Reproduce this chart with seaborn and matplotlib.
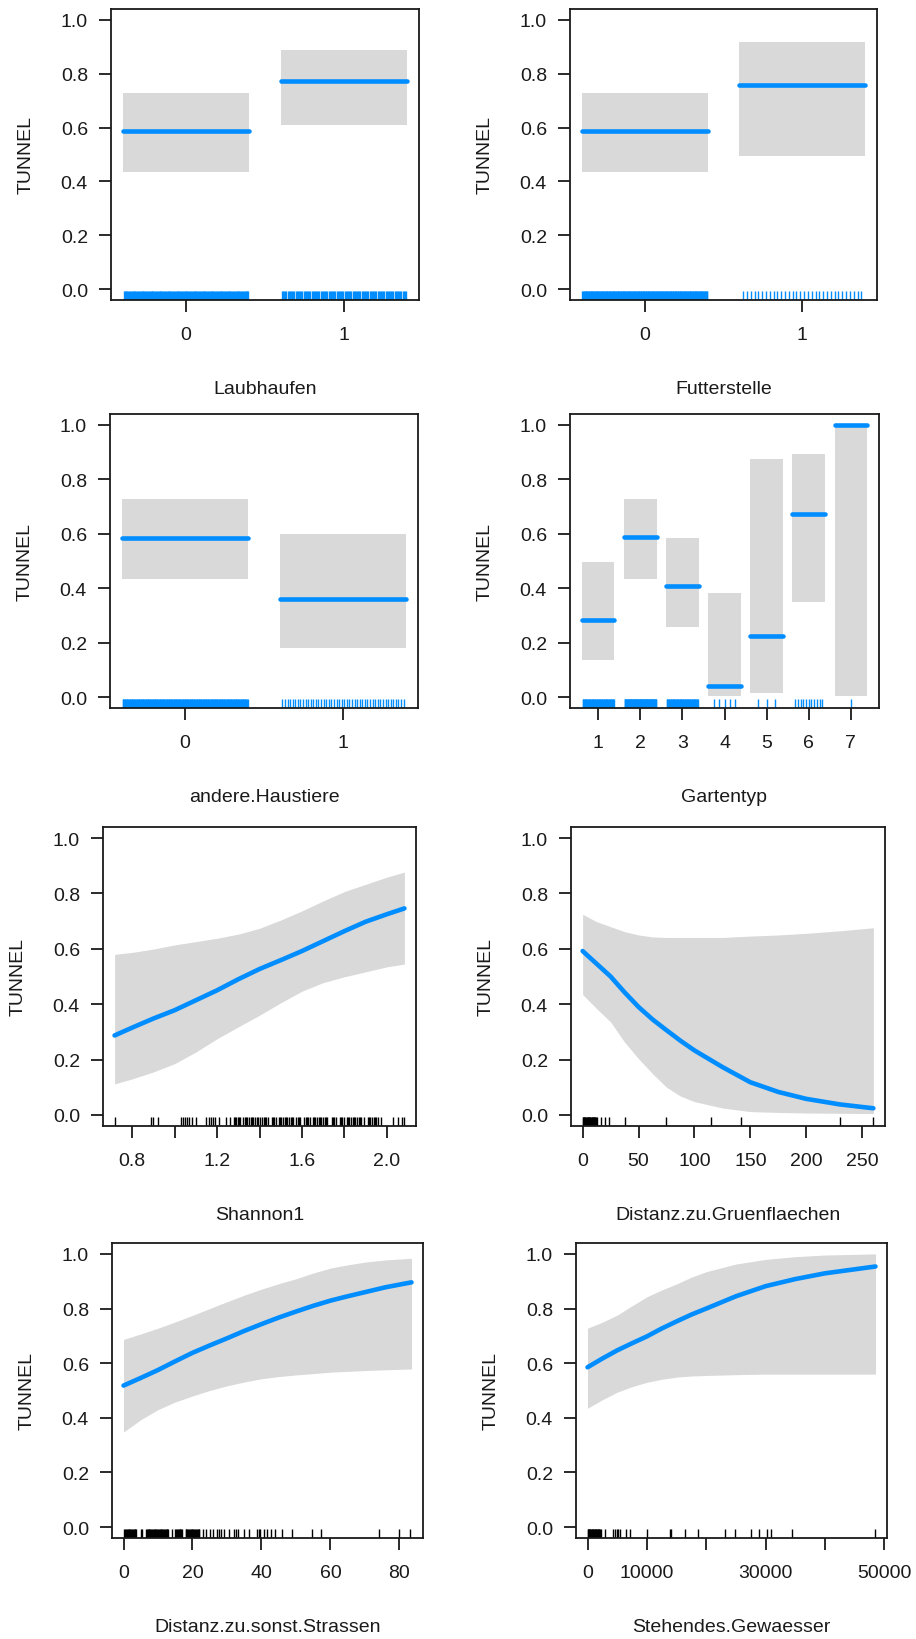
import numpy as np
import pandas as pd
import matplotlib
matplotlib.use("Agg")
import matplotlib.pyplot as plt
import seaborn as sns

# ---------------- data ----------------
Y_LABEL = "TUNNEL"

laub_levels = ["0", "1"]
laub_fit = [0.587, 0.771]
laub_lwr = [0.434, 0.608]
laub_upr = [0.727, 0.887]
laub_n = [140, 110]

futter_levels = ["0", "1"]
futter_fit = [0.587, 0.759]
futter_lwr = [0.434, 0.494]
futter_upr = [0.727, 0.916]
futter_n = [200, 32]

haus_levels = ["0", "1"]
haus_fit = [0.586, 0.360]
haus_lwr = [0.434, 0.182]
haus_upr = [0.726, 0.598]
haus_n = [180, 48]

garten_levels = ["1", "2", "3", "4", "5", "6", "7"]
garten_fit = [0.282, 0.587, 0.407, 0.041, 0.223, 0.672, 1.000]
garten_lwr = [0.135, 0.434, 0.256, 0.004, 0.014, 0.348, 0.004]
garten_upr = [0.496, 0.727, 0.583, 0.381, 0.876, 0.893, 1.000]
garten_n = [50, 70, 50, 5, 3, 11, 1]

shannon_x = [0.718, 0.8, 0.9, 1.0, 1.1, 1.2, 1.3, 1.4, 1.5, 1.6, 1.7, 1.8, 1.9, 2.0, 2.082]
shannon_fit = [0.287, 0.315, 0.348, 0.378, 0.414, 0.450, 0.490, 0.527, 0.559, 0.592,
               0.628, 0.664, 0.698, 0.725, 0.746]
shannon_lwr = [0.112, 0.130, 0.155, 0.185, 0.227, 0.275, 0.318, 0.360, 0.405, 0.447,
               0.478, 0.499, 0.517, 0.535, 0.545]
shannon_upr = [0.580, 0.587, 0.599, 0.614, 0.626, 0.638, 0.653, 0.674, 0.704, 0.737,
               0.773, 0.807, 0.833, 0.859, 0.877]
shannon_rug = [0.72, 0.89, 0.90, 0.92, 1.03, 1.04, 1.05, 1.06, 1.07, 1.08, 1.10,
               1.15, 1.16, 1.17, 1.18, 1.19, 1.21, 1.24, 1.26,
               1.28, 1.285, 1.29, 1.30, 1.305, 1.31, 1.32, 1.33, 1.335, 1.34, 1.35,
               1.36, 1.365, 1.37, 1.38, 1.39, 1.395, 1.40, 1.41, 1.42, 1.425, 1.43,
               1.44, 1.46, 1.465, 1.47, 1.48, 1.49, 1.495, 1.50, 1.51, 1.52, 1.525,
               1.53, 1.54, 1.55, 1.555, 1.56, 1.57, 1.58, 1.585, 1.59, 1.61, 1.62,
               1.625, 1.63, 1.64, 1.65, 1.655, 1.66, 1.67, 1.68, 1.685, 1.69, 1.70,
               1.71, 1.715, 1.72, 1.74, 1.745, 1.75, 1.76, 1.78, 1.785, 1.79, 1.80,
               1.81, 1.815, 1.82, 1.83, 1.84, 1.845, 1.85, 1.86, 1.87, 1.875, 1.88,
               1.89, 1.91, 1.915, 1.92, 1.93, 1.94, 1.945, 1.95, 1.96, 1.97,
               2.03, 2.05, 2.07, 2.08]

gruen_x = [0, 12.5, 25, 37.5, 50, 62.5, 75, 87.5, 100, 125, 150, 175, 200, 230, 260]
gruen_fit = [0.592, 0.546, 0.500, 0.443, 0.390, 0.345, 0.306, 0.268, 0.233, 0.173,
             0.118, 0.083, 0.058, 0.038, 0.024]
gruen_lwr = [0.435, 0.384, 0.336, 0.263, 0.203, 0.149, 0.100, 0.068, 0.048, 0.025,
             0.012, 0.009, 0.007, 0.006, 0.005]
gruen_upr = [0.725, 0.698, 0.680, 0.662, 0.650, 0.643, 0.641, 0.641, 0.641, 0.641,
             0.646, 0.650, 0.656, 0.665, 0.676]
gruen_rug = [0, 0.5, 1, 1.5, 2, 2.5, 3, 3.5, 4, 4.5, 5, 5.5, 6, 6.5, 7, 7.5, 8,
             8.5, 9, 9.5, 10, 10.5, 11, 11.5, 12, 12.5, 16, 20, 24, 38, 75, 115,
             142, 230.5, 260]

strassen_x = [0, 5, 10, 15, 20, 25, 30, 35, 40, 45, 50, 55, 60, 65, 70, 76, 83.5]
strassen_fit = [0.518, 0.546, 0.575, 0.607, 0.638, 0.665, 0.691, 0.718, 0.743, 0.767,
                0.789, 0.810, 0.829, 0.845, 0.860, 0.878, 0.896]
strassen_lwr = [0.348, 0.393, 0.430, 0.458, 0.480, 0.500, 0.517, 0.531, 0.543, 0.551,
                0.557, 0.562, 0.567, 0.570, 0.573, 0.576, 0.579]
strassen_upr = [0.687, 0.707, 0.728, 0.751, 0.775, 0.800, 0.825, 0.849, 0.871, 0.891,
                0.909, 0.930, 0.948, 0.960, 0.970, 0.978, 0.984]
strassen_rug = [0.2, 0.45, 0.7, 0.95, 1.2, 1.45, 1.7, 1.95, 2.2, 2.45, 2.7, 2.95,
                3.2, 3.45, 3.7, 5.0, 5.25, 6.5, 6.75, 7.0, 7.25, 7.5, 7.75, 8.0,
                8.25, 8.5, 8.75, 9.0, 9.25, 9.5, 9.75, 10.0, 10.25, 10.5, 10.75,
                11.0, 11.25, 11.5, 11.75, 12.0, 12.25, 12.5, 12.75, 13.0, 14.0,
                15.0, 15.25, 15.5, 15.75, 16.0, 16.25, 16.5, 16.75, 17.0, 18.0,
                18.25, 18.5, 18.75, 19.0, 19.25, 19.5, 19.75, 20.0, 20.25, 20.5,
                20.75, 21.0, 21.25, 21.5, 21.75, 22.0, 23, 24, 25, 26, 27, 27.7,
                28.4, 29.2, 30.5, 32, 32.6, 33.3, 35, 36.3, 38.7, 39.2, 39.7,
                40.6, 41.6, 42.7, 44, 46, 48.8, 54.6, 57.3, 74.2, 80, 83.2]

gewaesser_x = [0, 2500, 5000, 7500, 10000, 12500, 15000, 17500, 20000, 25000, 30000,
               35000, 40000, 48500]
gewaesser_fit = [0.585, 0.617, 0.647, 0.673, 0.698, 0.727, 0.753, 0.778, 0.800, 0.845,
                 0.882, 0.908, 0.929, 0.954]
gewaesser_lwr = [0.435, 0.466, 0.494, 0.514, 0.530, 0.541, 0.549, 0.553, 0.555, 0.558,
                 0.560, 0.560, 0.560, 0.560]
gewaesser_upr = [0.728, 0.750, 0.776, 0.810, 0.843, 0.868, 0.890, 0.915, 0.935, 0.963,
                 0.980, 0.990, 0.996, 1.000]
gewaesser_rug = [0, 100, 200, 300, 400, 500, 600, 700, 800, 900, 1000, 1100,
                 1200, 1300, 1400, 1500, 1600, 1700, 1800, 1900, 2000, 2100,
                 2200, 3000, 4300, 4600, 4900, 5200, 5500, 6500, 7200, 10000,
                 13900, 14000, 16400, 18600, 23100, 24900, 27500, 28800, 30200,
                 30900, 34500, 48500]

# ---------------- style ----------------
BLUE = "#008DFF"
BAND = "#D9D9D9"
INK = "#1a1a1a"

sns.set_theme(style="white")
plt.rcParams.update({
    "font.family": ["Liberation Sans", "DejaVu Sans"],
    "font.size": 14,
    "axes.edgecolor": INK,
    "axes.linewidth": 1.3,
    "axes.labelcolor": INK,
    "axes.labelsize": 14,
    "xtick.color": INK,
    "ytick.color": INK,
    "xtick.labelsize": 14,
    "ytick.labelsize": 14,
    "xtick.major.size": 8.6,
    "ytick.major.size": 8.6,
    "xtick.major.width": 1.3,
    "ytick.major.width": 1.3,
    "xtick.major.pad": 10,
    "ytick.major.pad": 8,
    "xtick.bottom": True,
    "ytick.left": True,
    "xtick.direction": "out",
    "ytick.direction": "out",
})

W, H = 916, 1640
fig = plt.figure(figsize=(W / 100, H / 100), dpi=100)

boxes = [(111, 419, 10, 301), (570, 877, 10, 301),
         (110, 418, 415, 709), (570, 879, 415, 709),
         (103, 416, 828, 1127), (571, 885, 828, 1127),
         (112, 423, 1244, 1539), (576, 887, 1244, 1539)]

XLABELPAD = 27
YLABELPAD = 19


def make_ax(b):
    l, r, t, btm = b
    ax = fig.add_axes([l / W, 1 - btm / H, (r - l) / W, (btm - t) / H])
    ax.set_ylim(-0.04, 1.04)
    ax.set_yticks([0, 0.2, 0.4, 0.6, 0.8, 1.0])
    ax.set_yticklabels(["0.0", "0.2", "0.4", "0.6", "0.8", "1.0"])
    for s in ax.spines.values():
        s.set_visible(True)
    return ax


def factor_panel(ax, levels, fit, lwr, upr, n, half, xlabel):
    pos = np.arange(len(levels))
    for p, f, lo, hi, k in zip(pos, fit, lwr, upr, n):
        ax.fill_between([p - half, p + half], [lo, lo], [hi, hi],
                        color=BAND, lw=0, zorder=1)
        seg = pd.DataFrame({"x": [p - half, p + half], "y": [f, f]})
        sns.lineplot(data=seg, x="x", y="y", color=BLUE, lw=3.3,
                     solid_capstyle="round", ax=ax, zorder=3)
        rug_pos = p + half * (2 * np.arange(1, k + 1) / (k + 1) - 1)
        sns.rugplot(x=rug_pos, height=0.03, color=BLUE, lw=1.3,
                    expand_margins=False, ax=ax, zorder=2)
    if len(levels) == 2:
        ax.set_xlim(-0.475, 1.475)
    else:
        ax.set_xlim(-0.67, len(levels) - 1 + 0.67)
    ax.set_xticks(pos)
    ax.set_xticklabels(levels)
    ax.set_xlabel(xlabel, labelpad=XLABELPAD)
    ax.set_ylabel(Y_LABEL, labelpad=YLABELPAD)


def cont_panel(ax, x, fit, lwr, upr, rug, ticks, ticklabels, xlabel):
    ax.fill_between(x, lwr, upr, color=BAND, lw=0, zorder=1)
    df = pd.DataFrame({"x": x, "y": fit})
    sns.lineplot(data=df, x="x", y="y", color=BLUE, lw=3.3,
                 solid_capstyle="round", ax=ax, zorder=3)
    sns.rugplot(x=rug, height=0.03, color="black", lw=1.5,
                expand_margins=False, ax=ax, zorder=2)
    lo, hi = min(x), max(x)
    d = 0.04 * (hi - lo)
    ax.set_xlim(lo - d, hi + d)
    ax.set_xticks(ticks)
    ax.set_xticklabels(ticklabels)
    ax.set_xlabel(xlabel, labelpad=XLABELPAD)
    ax.set_ylabel(Y_LABEL, labelpad=YLABELPAD)


axes = [make_ax(b) for b in boxes]

factor_panel(axes[0], laub_levels, laub_fit, laub_lwr, laub_upr, laub_n, 0.4, "Laubhaufen")
factor_panel(axes[1], futter_levels, futter_fit, futter_lwr, futter_upr, futter_n, 0.4, "Futterstelle")
factor_panel(axes[2], haus_levels, haus_fit, haus_lwr, haus_upr, haus_n, 0.4, "andere.Haustiere")
factor_panel(axes[3], garten_levels, garten_fit, garten_lwr, garten_upr, garten_n, 0.385, "Gartentyp")

cont_panel(axes[4], shannon_x, shannon_fit, shannon_lwr, shannon_upr, shannon_rug,
           [0.8, 1.0, 1.2, 1.4, 1.6, 1.8, 2.0],
           ["0.8", "", "1.2", "", "1.6", "", "2.0"], "Shannon1")
cont_panel(axes[5], gruen_x, gruen_fit, gruen_lwr, gruen_upr, gruen_rug,
           [0, 50, 100, 150, 200, 250],
           ["0", "50", "100", "150", "200", "250"], "Distanz.zu.Gruenflaechen")
cont_panel(axes[6], strassen_x, strassen_fit, strassen_lwr, strassen_upr, strassen_rug,
           [0, 20, 40, 60, 80], ["0", "20", "40", "60", "80"],
           "Distanz.zu.sonst.Strassen")
cont_panel(axes[7], gewaesser_x, gewaesser_fit, gewaesser_lwr, gewaesser_upr, gewaesser_rug,
           [0, 10000, 20000, 30000, 40000, 50000],
           ["0", "10000", "", "30000", "", "50000"], "Stehendes.Gewaesser")

fig.savefig("out.png", dpi=100)
